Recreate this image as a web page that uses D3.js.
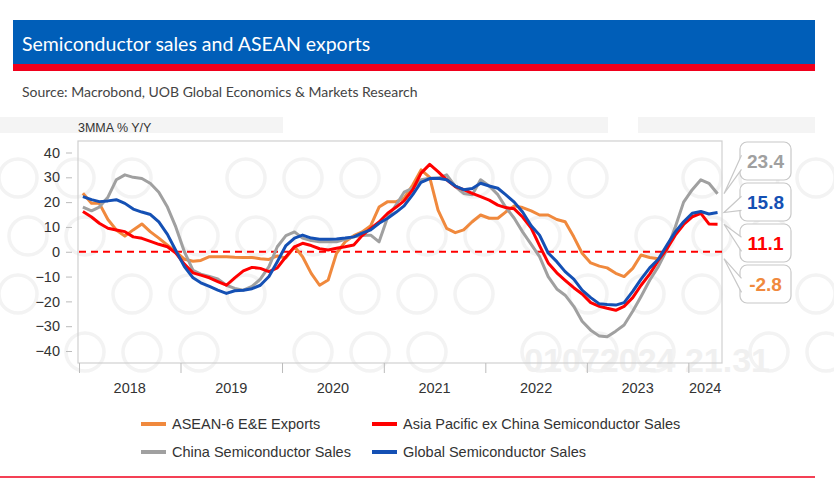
<!DOCTYPE html>
<html>
<head>
<meta charset="utf-8">
<script src="https://cdn.jsdelivr.net/npm/d3@7"></script>
<style>
  html, body { margin: 0; padding: 0; background: #fff; }
  svg { display: block; }
</style>
</head>
<body>
<div id="chart"></div>
<script>
// monthly 3MMA % y/y, Jan 2018 onwards
var startMonth = new Date(2018, 0, 1);
var yearLabels = ["2018", "2019", "2020", "2021", "2022", "2023", "2024"];
var yTicks = [40, 30, 20, 10, 0, -10, -20, -30, -40];

var aseanExports = [23.6, 19.5, 19.5, 13, 8.8, 6.3, 8.8, 11.2, 8, 5.5, 2.7, 0,
  -3, -3.8, -3.5, -2, -2, -2, -2.2, -2.3, -2.3, -2.8, -3.1, -1.7,
  -2.5, 2, -2, -8.7, -13.5, -11.4, -0.6, 4, 6.5, 8, 10.5, 18,
  20.2, 20.2, 21.6, 26.9, 33, 30, 16.8, 9.4, 7.7, 8.8, 12.1, 14.8,
  13.5, 13.5, 16, 18.5, 17.8, 16.5, 14.8, 14.8, 13, 12.1, 6, -0.6,
  -4.5, -5.8, -6.5, -8.7, -10, -6.7, -1.3, -2.3, -2.8];

var apacExChina = [16.2, 14, 11.5, 9.5, 8.8, 8.1, 6, 5.4, 4.2, 3, 2, -0.5,
  -5, -8.5, -9.4, -10.5, -12, -13.5, -10.5, -7.7, -6.3, -6.7, -8, -6.5,
  -2, 2, 3.4, 2.5, 1.2, 0.7, 1.4, 2, 2.7, 6.5, 9.4, 12,
  15.5, 18, 20.5, 25, 31.7, 35.2, 32.3, 29, 26.3, 25, 23.5, 22.2,
  20.8, 18.8, 17.8, 17.3, 14, 9.5, 2.5, -4.5, -8.5, -11.5, -14.5, -17,
  -20.5, -22, -22.8, -23.6, -22, -18.5, -13.5, -9, -3.5, 1, 6.7, 11,
  14.1, 15.5, 11.2, 11.1];

var chinaSales = [18, 16.5, 18, 22, 29, 31, 30, 29.5, 27.5, 24, 18, 10,
  0, -7.5, -9, -10, -11, -13.5, -14.8, -15.5, -14, -11, -6, 2,
  6.5, 8, 5.5, 4.5, 4, 4, 4, 5, 6, 6.5, 6.7, 4,
  14, 19, 24, 25.6, 29, 29.6, 29.6, 31, 26.3, 23.5, 23, 29,
  26.5, 23, 18, 13.5, 8, 3, -2, -10, -15, -17.5, -22, -28,
  -31.6, -34, -34.3, -32, -29.5, -24, -18, -11.5, -6, 0.7, 10, 20,
  25, 29, 27.6, 23.4];

var globalSales = [22.2, 21, 20.2, 20.5, 21, 19.5, 17.2, 16, 15, 12, 7, 0.5,
  -6, -10.5, -12.5, -14, -15.5, -16.8, -15.7, -15.5, -14.9, -13.5, -10, -4,
  2.5, 5.5, 6.7, 5.5, 5, 5, 5.1, 5.5, 6, 7.5, 8.8, 11.5,
  13.5, 16, 18.5, 23, 28, 29.5, 29.6, 29, 26.5, 25, 25.5, 27.6,
  26.5, 25.6, 23, 20, 16, 10.5, 6.7, -0.5, -4, -8, -11, -15.5,
  -18.5, -21, -21.3, -21.5, -20.5, -16, -11, -6.5, -3, 2.5, 8, 12.1,
  15.5, 16.2, 15.2, 15.8];

var seriesNames = ["ASEAN-6 E&E Exports", "Asia Pacific ex China Semiconductor Sales",
  "China Semiconductor Sales", "Global Semiconductor Sales"];
var seriesColors = ["#f0893d", "#ff0000", "#a0a0a0", "#1450b4"];
var seriesData = [aseanExports, apacExChina, chinaSales, globalSales];
var lastLabels = ["23.4", "15.8", "11.1", "-2.8"];
var labelOrder = [2, 3, 1, 0]; // gray, blue, red, orange top to bottom

var width = 834, height = 494;
var plot = {left: 79, right: 722, top: 141, bottom: 363};

var svg = d3.select('#chart').append('svg')
        .attr('width', width)
        .attr('height', height)
        .style('font-family', 'Liberation Sans, Arial, sans-serif');

// faint watermark behind everything
var wm = svg.append('g').attr('class', 'watermark');
[[0, 283], [430, 608], [638, 815]].forEach(function (b) {
    wm.append('rect').attr('x', b[0]).attr('y', 117).attr('width', b[1] - b[0]).attr('height', 16)
            .attr('fill', '#f4f4f4');
});
d3.range(4).forEach(function (row) {
    d3.range(15).forEach(function (col) {
        if ((col + row) % 4 == 3) return;
        wm.append('circle')
                .attr('cx', 18 + col * 57 + (row % 2) * 10)
                .attr('cy', 178 + row * 58)
                .attr('r', 19)
                .attr('fill', 'none')
                .attr('stroke', '#f3f3f3')
                .attr('stroke-width', 3.5);
    });
});
wm.append('text').attr('x', 770).attr('y', 372)
        .attr('text-anchor', 'end')
        .attr('font-size', 34).attr('font-weight', 'bold')
        .attr('fill', '#f0f0f0')
        .text('01072024 21.31');

// header
svg.append('rect').attr('x', 13).attr('y', 20).attr('width', 802).attr('height', 44).attr('fill', '#005eb8');
svg.append('rect').attr('x', 13).attr('y', 64).attr('width', 802).attr('height', 7).attr('fill', '#f0001c');
svg.append('text').attr('x', 22).attr('y', 51)
        .attr('fill', '#fff').attr('font-size', 19.5)
        .style('font-family', 'Lato, sans-serif')
        .text('Semiconductor sales and ASEAN exports');
svg.append('text').attr('x', 22).attr('y', 97)
        .attr('fill', '#444').attr('font-size', 14)
        .style('font-family', 'Lato, sans-serif')
        .text('Source: Macrobond, UOB Global Economics & Markets Research');

// scales
var x = d3.scaleTime()
        .domain([startMonth, new Date(2024, 4, 1)])
        .range([plot.left, plot.right]);
var y = d3.scaleLinear()
        .domain([-40, 40])
        .range([351, 152.5]);

var months = d3.timeMonth.range(startMonth, new Date(2024, 4, 1)).map(function (d) {
    return new Date(d.getFullYear(), d.getMonth(), 15);
});

// frame
svg.append('rect')
        .attr('x', plot.left - 1).attr('y', plot.top)
        .attr('width', plot.right - plot.left + 1).attr('height', plot.bottom - plot.top)
        .attr('fill', 'none').attr('stroke', '#d0d0d0').attr('stroke-width', 1.2);

svg.append('text').attr('x', 78).attr('y', 132)
        .attr('font-size', 12.5).attr('fill', '#333')
        .text('3MMA % Y/Y');

// y axis
var yAxis = svg.append('g')
        .attr('transform', 'translate(72,0)')
        .call(d3.axisLeft(y).tickValues(yTicks).tickSize(6).tickPadding(6));
yAxis.select('.domain').remove();
yAxis.selectAll('line').attr('stroke', '#bbb');
yAxis.selectAll('text').attr('font-size', 14.5).attr('fill', '#333')
        .style('font-family', 'Liberation Sans, Arial, sans-serif');

// x axis: ticks at year starts, labels mid-year
var yearStarts = yearLabels.map(function (yr) { return new Date(+yr, 0, 1); });
var xAxis = svg.append('g')
        .attr('transform', 'translate(0,' + plot.bottom + ')')
        .call(d3.axisBottom(x).tickValues(yearStarts).tickSize(10).tickFormat(''));
xAxis.select('.domain').remove();
xAxis.selectAll('line').attr('stroke', '#bbb');

svg.append('g').selectAll('text')
        .data(yearLabels)
        .enter().append('text')
        .attr('x', function (d) {
            var a = x(new Date(+d, 0, 1));
            var b = Math.min(x(new Date(+d + 1, 0, 1)), plot.right);
            return (a + b) / 2;
        })
        .attr('y', 393)
        .attr('text-anchor', 'middle')
        .attr('font-size', 14.5).attr('fill', '#333')
        .text(function (d) { return d; });

// zero line
svg.append('line')
        .attr('x1', plot.left).attr('x2', plot.right)
        .attr('y1', y(0)).attr('y2', y(0))
        .attr('stroke', '#ff0000').attr('stroke-width', 2.2)
        .attr('stroke-dasharray', '7,5');

// series lines
var line = d3.line()
        .x(function (d, i) { return x(months[i]); })
        .y(function (d) { return y(d); });

var drawOrder = [0, 2, 1, 3];
drawOrder.forEach(function (s) {
    svg.append('path')
            .datum(seriesData[s])
            .attr('d', line)
            .attr('fill', 'none')
            .attr('stroke', seriesColors[s])
            .attr('stroke-width', 3)
            .attr('stroke-linejoin', 'round');
});

// end-value callouts
var boxX = 740, boxW = 51, boxH = 38, boxGap = 3, boxTop = 142;
labelOrder.forEach(function (s, k) {
    var by = boxTop + k * (boxH + boxGap);
    var data = seriesData[s];
    var tipY = y(data[data.length - 1]);
    var g = svg.append('g');
    g.append('rect')
            .attr('x', boxX).attr('y', by)
            .attr('width', boxW).attr('height', boxH)
            .attr('rx', 7)
            .attr('fill', '#fff').attr('stroke', '#c8c8c8').attr('stroke-width', 1.2);
    g.append('path')
            .attr('d', 'M' + (boxX + 1.5) + ',' + (by + boxH * 0.35) +
                    'L' + (plot.right + 2) + ',' + tipY +
                    'L' + (boxX + 1.5) + ',' + (by + boxH * 0.72))
            .attr('fill', '#fff').attr('stroke', '#c8c8c8').attr('stroke-width', 1.2);
    g.append('text')
            .attr('x', boxX + boxW / 2).attr('y', by + boxH / 2 + 7)
            .attr('text-anchor', 'middle')
            .attr('font-size', 19).attr('font-weight', 'bold')
            .attr('fill', seriesColors[s])
            .text(lastLabels[k]);
});

// legend
var legendPos = [[141, 424], [372, 424], [141, 452], [372, 452]];
seriesNames.forEach(function (name, i) {
    var lg = svg.append('g').attr('transform', 'translate(' + legendPos[i][0] + ',' + legendPos[i][1] + ')');
    lg.append('line')
            .attr('x1', 0).attr('x2', 25)
            .attr('y1', 0).attr('y2', 0)
            .attr('stroke', seriesColors[i]).attr('stroke-width', 4);
    lg.append('text')
            .attr('x', 31).attr('y', 5)
            .attr('font-size', 14.5).attr('fill', '#333')
            .text(name);
});

// footer rule
svg.append('line')
        .attr('x1', 0).attr('x2', 815)
        .attr('y1', 477).attr('y2', 477)
        .attr('stroke', '#f0001c').attr('stroke-width', 1.5);
</script>
</body>
</html>
